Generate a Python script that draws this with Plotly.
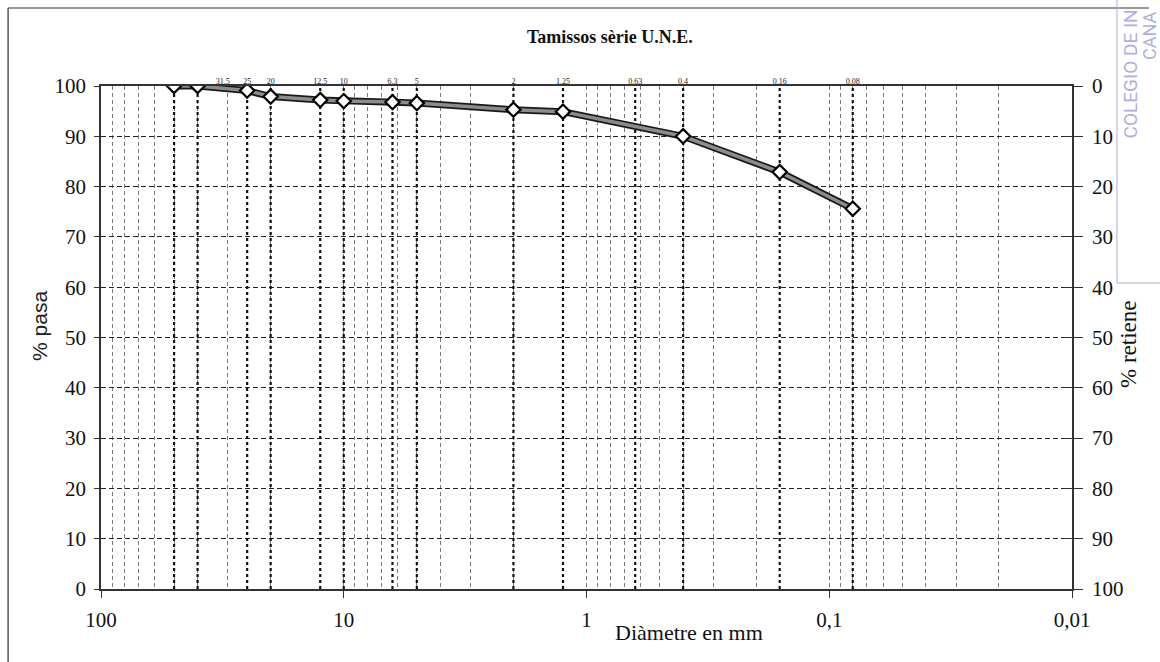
import plotly.graph_objects as go

# ---- data ----
sieves = [50, 40, 25, 20, 12.5, 10, 6.3, 5, 2, 1.25, 0.63, 0.4, 0.16, 0.08]
label_vals = [31.5, 25, 20, 12.5, 10, 6.3, 5, 2, 1.25, 0.63, 0.4, 0.16, 0.08]
label_txt = ["31.5", "25", "20", "12.5", "10", "6.3", "5", "2", "1.25", "0.63", "0.4", "0.16", "0.08"]
diam = [50, 40, 25, 20, 12.5, 10, 6.3, 5, 2, 1.25, 0.4, 0.16, 0.08]
pasa = [100, 100, 99.1, 97.9, 97.2, 97.0, 96.8, 96.6, 95.3, 94.9, 90.0, 82.9, 75.6]
retiene = [100 - p for p in pasa]
x_tickvals = [100, 10, 1, 0.1, 0.01]
x_ticktext = ["100", "10", "1", "0,1", "0,01"]
y_ticks = list(range(0, 101, 10))

SERIF = "Liberation Serif"
SANS = "Liberation Sans"

fig = go.Figure()

# sieve vertical lines
vx, vy = [], []
for s in sieves:
    vx += [s, s, None]
    vy += [0, 100, None]
fig.add_trace(go.Scatter(x=vx, y=vy, mode="lines", hoverinfo="skip",
                         line=dict(color="#111", width=2.2, dash="dot"),
                         showlegend=False))

# sieve labels
fig.add_trace(go.Scatter(x=label_vals, y=[100] * len(label_vals), mode="text",
                         text=label_txt, textposition="top center",
                         textfont=dict(family=SERIF, size=8, color="#222"),
                         cliponaxis=False, hoverinfo="skip", showlegend=False))

# curve: dark outline + gray core
fig.add_trace(go.Scatter(x=diam, y=pasa, mode="lines",
                         line=dict(color="#1a1a1a", width=7),
                         hoverinfo="skip", showlegend=False))
fig.add_trace(go.Scatter(x=diam, y=pasa, mode="lines+markers",
                         line=dict(color="#8c8c8c", width=3.5),
                         marker=dict(symbol="diamond", size=11, color="white",
                                     line=dict(color="black", width=2.2)),
                         showlegend=False))

# right axis (% retiene) invisible traces
fig.add_trace(go.Scatter(x=diam, y=retiene, yaxis="y2", mode="lines",
                         line=dict(width=0), opacity=0, hoverinfo="skip",
                         showlegend=False))
fig.add_trace(go.Scatter(x=diam, y=retiene, yaxis="y3", mode="lines",
                         line=dict(width=0), opacity=0, hoverinfo="skip",
                         showlegend=False))

axis_col = "#333333"

fig.update_layout(
    width=1160, height=662,
    margin=dict(l=101, r=88, t=86, b=73),
    paper_bgcolor="white", plot_bgcolor="white",
    font=dict(family=SERIF, size=20, color="#111"),
    xaxis=dict(
        type="log", range=[2, -2],
        tickvals=x_tickvals, ticktext=x_ticktext,
        ticks="outside", ticklen=7, tickcolor=axis_col, tickwidth=1.2,
        ticklabelstandoff=4,
        showgrid=False, zeroline=False,
        showline=True, linecolor=axis_col, linewidth=1.5, mirror=True,
        tickfont=dict(family=SERIF, size=21),
        minor=dict(dtick="D1", showgrid=True, gridcolor="#777",
                   griddash="4px,3px", gridwidth=1, ticks=""),
    ),
    yaxis=dict(
        range=[0, 100], tickvals=y_ticks,
        ticks="outside", ticklen=5, tickcolor=axis_col,
        ticklabelstandoff=4,
        showgrid=True, gridcolor="#222", griddash="5px,3px", gridwidth=1,
        zeroline=False, showline=True, linecolor=axis_col, linewidth=1.5,
        tickfont=dict(family=SERIF, size=21),
    ),
    yaxis2=dict(
        range=[100, 0], tickvals=y_ticks, overlaying="y", side="right",
        ticks="outside", ticklen=9, tickcolor=axis_col,
        ticklabelstandoff=5,
        showgrid=False, zeroline=False, showline=True, linecolor=axis_col,
        linewidth=1.5, tickfont=dict(family=SERIF, size=21),
    ),
    yaxis3=dict(
        range=[100, 0], tickvals=y_ticks, overlaying="y", side="right",
        ticks="inside", ticklen=7, tickcolor=axis_col, showticklabels=False,
        showgrid=False, zeroline=False, showline=False,
    ),
    showlegend=False,
)

# titles
fig.add_annotation(text="<b>Tamissos sèrie U.N.E.</b>", xref="paper", yref="paper",
                   x=0.524, y=1, yshift=49, xanchor="center", yanchor="middle",
                   showarrow=False, font=dict(family=SERIF, size=18, color="#111"))
fig.add_annotation(text="Diàmetre en mm", xref="paper", yref="paper",
                   x=(690 - 101) / 972, y=0, yshift=-43, xanchor="center", yanchor="middle",
                   showarrow=False, font=dict(family=SERIF, size=22, color="#111"))
fig.add_annotation(text="% pasa", xref="paper", yref="paper",
                   x=0, xshift=-61, y=0.523, xanchor="center", yanchor="middle",
                   showarrow=False, textangle=-90,
                   font=dict(family=SANS, size=21, color="#222"))
fig.add_annotation(text="% retiene", xref="paper", yref="paper",
                   x=1, xshift=56, y=(589 - 345) / 503, xanchor="center", yanchor="middle",
                   showarrow=False, textangle=-90,
                   font=dict(family=SERIF, size=23, color="#111"))

# frame of the scanned page
fig.add_shape(type="line", xref="paper", yref="paper",
              x0=-93 / 972, x1=(1150 - 101) / 972, y0=1 + 78 / 503, y1=1 + 78 / 503,
              line=dict(color="#777", width=1.5))
fig.add_shape(type="line", xref="paper", yref="paper",
              x0=-93 / 972, x1=-93 / 972, y0=1 + 78 / 503, y1=-0.2,
              line=dict(color="#555", width=1.5))

# stamp watermark
wm = "#aeb0dc"
fig.add_shape(type="line", xref="paper", yref="paper",
              x0=(1118 - 101) / 972, x1=(1118 - 101) / 972, y0=1.2, y1=(589 - 283) / 503,
              line=dict(color=wm, width=1))
fig.add_shape(type="line", xref="paper", yref="paper",
              x0=(1118 - 101) / 972, x1=1.2, y0=(589 - 283) / 503, y1=(589 - 283) / 503,
              line=dict(color=wm, width=1))
fig.add_annotation(text="COLEGIO DE IN", xref="paper", yref="paper",
                   x=(1132 - 101) / 972, y=(589 - 140) / 503, xanchor="center", yanchor="bottom",
                   textangle=-90, showarrow=False,
                   font=dict(family="Roboto", size=19, color=wm))
fig.add_annotation(text="CANA", xref="paper", yref="paper",
                   x=(1150 - 101) / 972, y=(589 - 62) / 503, xanchor="center", yanchor="bottom",
                   textangle=-90, showarrow=False,
                   font=dict(family="Roboto", size=18, color=wm))

fig.write_html("out.html")
